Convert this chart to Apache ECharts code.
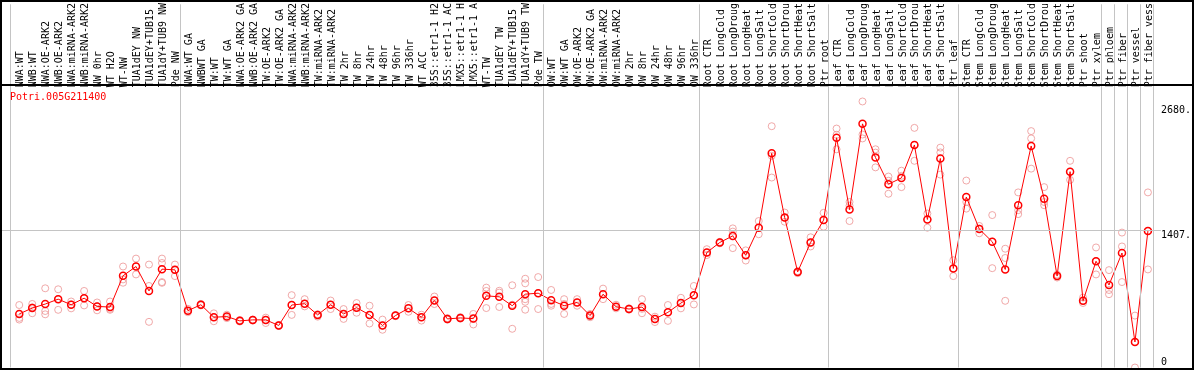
<!DOCTYPE html>
<html><head><meta charset="utf-8">
<script src="https://cdn.jsdelivr.net/npm/echarts@6/dist/echarts.min.js"></script>
<style>html,body{margin:0;padding:0;background:#fff}#c{width:1194px;height:370px}</style>
</head><body><div id="c"></div>
<script>
const geneName = 'Potri.005G211400';
const categories = [
 'NWA:WT','NWB:WT','NWA:OE-ARK2','NWB:OE-ARK2','NWA:miRNA-ARK2','NWB:miRNA-ARK2','NW 0hr','WT H2O','WT-NW',
 'TUA1dEY NW','TUA1dEY+TUB15','TUA1dY+TUB9 NW','Pde NW',
 'NWA:WT GA','NWBWT GA','TW:WT','TW:WT GA','NWA:OE-ARK2 GA','NWB:OE-ARK2 GA','TW:OE-ARK2','TW:OE-ARK2 GA',
 'NWA:miRNA-ARK2','NWB:miRNA-ARK2','TW:miRNA-ARK2','TW:miRNA-ARK2','TW 2hr','TW 8hr','TW 24hr','TW 48hr','TW 96hr','TW 336hr',
 'WT ACC','35S::etr1-1 H2','35S::etr1-1 AC','LMX5::etr1-1 H','LMX5::etr1-1 A','WT-TW','TUA1dEY TW','TUA1dEY+TUB15','TUA1dY+TUB9 TW','Pde TW',
 'OW:WT','OW:WT GA','OW:OE-ARK2','OW:OE-ARK2 GA','OW:miRNA-ARK2','OW:miRNA-ARK2','OW 2hr','OW 8hr','OW 24hr','OW 48hr','OW 96hr','OW 336hr',
 'Root CTR','Root LongCold','Root LongDroug','Root LongHeat','Root LongSalt','Root ShortCold','Root ShortDrou','Root ShortHeat','Root ShortSalt','Ptr root',
 'Leaf CTR','Leaf LongCold','Leaf LongDroug','Leaf LongHeat','Leaf LongSalt','Leaf ShortCold','Leaf ShortDrou','Leaf ShortHeat','Leaf ShortSalt','Ptr leaf',
 'Stem CTR','Stem LongCold','Stem LongDroug','Stem LongHeat','Stem LongSalt','Stem ShortCold','Stem ShortDrou','Stem ShortHeat','Stem ShortSalt',
 'Ptr shoot','Ptr xylem','Ptr phloem','Ptr fiber','Ptr vessel','Ptr fiber vess'
];
const means = [
 548,608,649,699,642,709,625,618,938,1033,783,1006,999,
 581,642,514,521,477,487,487,430,639,652,538,642,548,612,538,430,531,605,514,685,497,507,500,733,723,632,750,760,
 689,632,665,531,750,622,598,618,497,564,659,740,
 1176,1279,1346,1147,1430,2191,1534,978,1279,1508,
 2350,1615,2492,2148,1875,1939,2276,1514,2138,1013,
 1744,1417,1286,1003,1660,2266,1727,935,2003,682,1087,844,1171,261,1397
];
const replicates = [
 [639,507,490],[650,615,555],[810,578,544],[800,700,590],[675,645,605],[783,710,635],[665,625,585],[675,600,590],
 [1033,901,867],[1114,1033,952],[1053,834,467],[1114,1069,874,866],[1053,1000,935],
 [600,580,565],[650,642,635],[554,514,473],[540,521,505],[485,477,470],[490,487,480],[510,487,455],[435,430,425],
 [740,639,538],[699,652,625],[545,538,520],[685,642,598],[598,548,497],[659,612,560],[632,538,450],[490,430,386],
 [535,531,525],[639,605,570],[540,514,480],[726,685,649],[505,497,490],[515,507,500],[548,497,440],[817,783,608],
 [785,766,619],[841,642,396],[908,861,699,672,591],[925,760,598],
 [793,650,632],[699,650,548],[699,665,632],[548,531,514],[807,750,699],[642,622,605],[605,598,592],[699,600,555],
 [520,497,465],[639,564,477],[713,659,605],[834,740,645],
 [1210,1176,1150],[1285,1279,1270],[1423,1390,1221],[1198,1147,1094],[1498,1430,1363],[2468,2165,1943],
 [1585,1534,1491],[985,978,965],[1332,1279,1238],[1582,1508,1440],
 [2444,2380,2232],[1693,1655,1498],[2721,2383,2343],[2232,2198,2047],[1953,1910,1777],[2013,1960,1845],
 [2451,2276,2114],[1575,1514,1430],[2249,2200,1973],[1097,1013,935],
 [1912,1693,1625],[1448,1420,1373],[1559,1286,1016],[1215,1120,682],[1791,1609,1569],[2418,2343,2034],
 [1845,1693,1660],[950,935,920],[2114,2003,1919],[715,682,660],[1228,1087,952],[996,793,750],[1380,1238,874],
 [531,261,0],[1791,1397,1003]
];
const groupEnds = [12,40,52,62,72,83,84,85,86,87];
const yTickLabels = [1407, 2680];
const yZeroLabel = [0];
const refLineValue = 1407;

const FONT = 'DejaVu Sans Mono';
const chart = echarts.init(document.getElementById('c'), null, {renderer:'canvas'});
const repData = [];
replicates.forEach((arr,i)=>arr.forEach(v=>repData.push([i,v])));
const meanData = means.map((v,i)=>[i,v]);
const sepLines = [{xAxis:-0.7}].concat(groupEnds.map(g=>({xAxis:g+5/13})));
const yCommon = {type:'value', position:'right', min:0, max:3715, axisLine:{show:false}, axisTick:{show:false}, splitLine:{show:false}};
const xMin = -1.4, xMax = 88, labelShift = 1.5/13;
const option = {
 animation:false,
 title:{text:geneName, left:10, top:92, padding:0, textStyle:{color:'#ff0000', fontSize:10, fontFamily:FONT, fontWeight:'normal'}},
 grid:{left:1.1, right:30.7, top:0, bottom:2.5},
 xAxis:[
  {type:'value', position:'top', min:xMin, max:xMax, show:false},
  {type:'value', position:'top', offset:-85, min:xMin-labelShift, max:xMax-labelShift,
   axisLine:{show:false}, axisTick:{show:false}, splitLine:{show:false},
   axisLabel:{customValues:categories.map((c,i)=>i), formatter:v=>categories[Math.round(v)]||'', rotate:90, margin:2,
     fontSize:10, fontFamily:FONT, color:'#000'}}
 ],
 yAxis:[
  Object.assign({}, yCommon, {axisLabel:{customValues:yTickLabels, formatter:v=>v+'.', verticalAlign:'top', margin:0, fontSize:10, fontFamily:FONT, color:'#000'}}),
  Object.assign({}, yCommon, {axisLabel:{customValues:yZeroLabel, formatter:v=>String(v), verticalAlign:'bottom', margin:0, fontSize:10, fontFamily:FONT, color:'#000'}})
 ],
 series:[
  {type:'scatter', data:repData, symbol:'circle', symbolSize:7, z:2, xAxisIndex:0, yAxisIndex:0,
   itemStyle:{color:'rgba(0,0,0,0)', borderColor:'#ec9494', borderWidth:1},
   markLine:{silent:true, symbol:'none', label:{show:false}, lineStyle:{color:'#c4c4c4', width:1, type:'solid'},
     data: sepLines.concat([{yAxis:refLineValue}])}},
  {type:'line', data:meanData, symbol:'circle', symbolSize:7, z:3, xAxisIndex:0, yAxisIndex:0,
   itemStyle:{color:'rgba(0,0,0,0)', borderColor:'#ff0000', borderWidth:1.5},
   lineStyle:{color:'#ff0000', width:1}}
 ],
 graphic:[
  {type:'rect', silent:true, z:100, shape:{x:1, y:1, width:1192, height:368}, style:{fill:'none', stroke:'#000', lineWidth:2}},
  {type:'line', silent:true, z:100, shape:{x1:0, y1:85, x2:1194, y2:85}, style:{stroke:'#000', lineWidth:2}}
 ]
};
chart.setOption(option);
</script></body></html>
